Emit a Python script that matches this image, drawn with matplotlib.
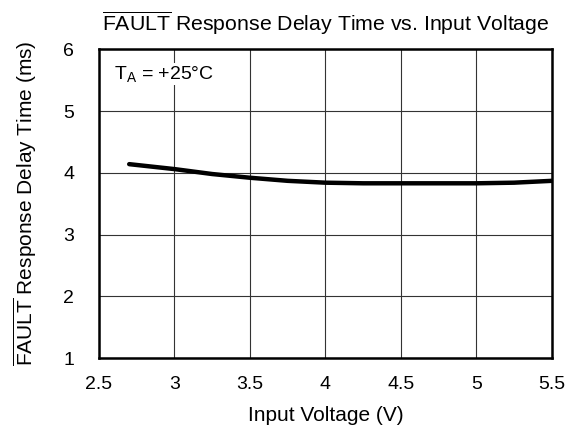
import numpy as np
import matplotlib.pyplot as plt

plt.rcParams['font.family'] = ['Liberation Sans', 'DejaVu Sans']
plt.rcParams['mathtext.fontset'] = 'custom'
plt.rcParams['mathtext.rm'] = 'Liberation Sans'
plt.rcParams['mathtext.it'] = 'Liberation Sans'

# curve
voltage = [2.7, 3.0, 3.25, 3.5, 3.75, 4.0, 4.25, 4.5, 4.75, 5.0, 5.25, 5.5]
delay = [4.14, 4.06, 3.98, 3.92, 3.87, 3.84, 3.83, 3.83, 3.83, 3.83, 3.84, 3.87]

xticks = [2.5, 3, 3.5, 4, 4.5, 5, 5.5]
xticklabels = ['2.5', '3', '3.5', '4', '4.5', '5', '5.5']
yticks = [1, 2, 3, 4, 5, 6]

fig = plt.figure(figsize=(5.79, 4.32), dpi=100)
ax = fig.add_axes([0.171, 0.171, 0.782, 0.715])

ax.plot(voltage, delay, color='black', linewidth=3.2, solid_capstyle='round', zorder=3)

ax.set_xlim(2.5, 5.5)
ax.set_ylim(1, 6)
ax.set_xticks(xticks)
ax.set_xticklabels(xticklabels)
ax.set_yticks(yticks)
ax.tick_params(axis='x', length=0, labelsize=14, pad=13)
ax.tick_params(axis='y', length=0, labelsize=14, pad=18)
ax.grid(True, color='#333333', linewidth=0.8)
for s in ax.spines.values():
    s.set_linewidth(1.8)

ax.set_xlabel('Input Voltage (V)', fontsize=15, labelpad=9)
ax.set_ylabel(r'$\overline{\mathrm{FAULT}}$ Response Delay Time (ms)', fontsize=15, labelpad=17)
ax.set_title(r'$\overline{\mathrm{FAULT}}$ Response Delay Time vs. Input Voltage', fontsize=15.3, pad=13)

ax.text(2.6, 5.6, r'T$_\mathrm{A}$ = +25°C', fontsize=14, va='center', ha='left',
        bbox=dict(facecolor='white', edgecolor='none', pad=1), zorder=4)

plt.savefig('out.png', dpi=100)
